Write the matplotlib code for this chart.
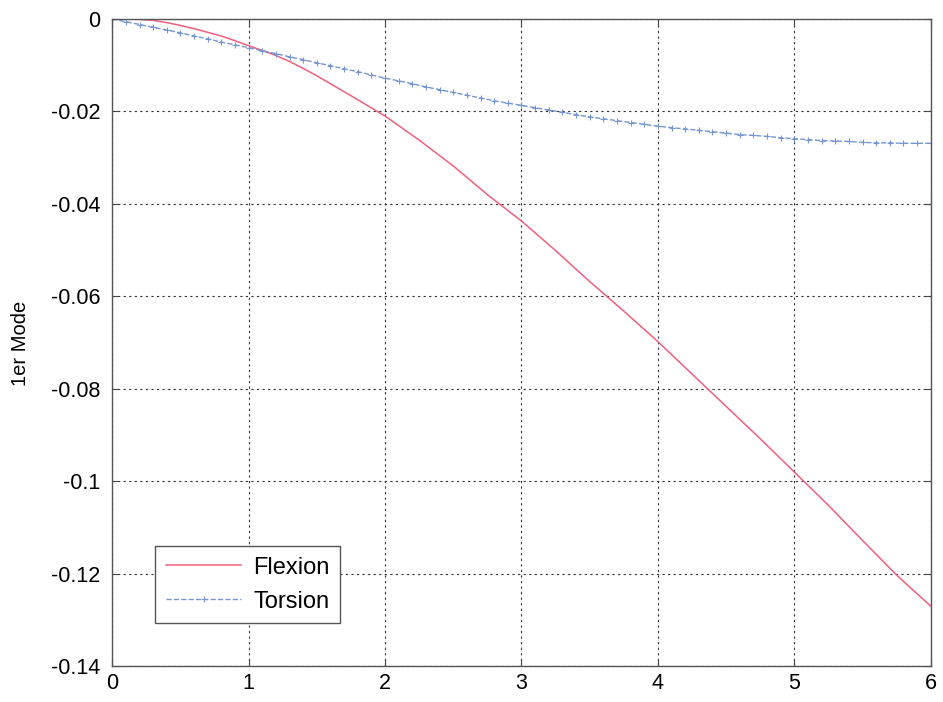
import matplotlib
matplotlib.use("Agg")
import matplotlib.pyplot as plt

# flexion
flex_x = [0, 0.1, 0.2, 0.3, 0.4, 0.5, 0.6, 0.7, 0.8, 0.9, 1.0, 1.1, 1.2, 1.3,
          1.4, 1.5, 1.75, 2.0, 2.25, 2.5, 2.75, 3.0, 3.25, 3.5, 3.75, 4.0,
          4.25, 4.5, 4.75, 5.0, 5.25, 5.5, 5.75, 6.0]
flex_y = [0, 0, -0.0001, -0.0003, -0.0008, -0.0014, -0.0021, -0.0029, -0.0037,
          -0.0047, -0.0058, -0.0068, -0.0079, -0.0092, -0.0107, -0.0123,
          -0.0166, -0.0210, -0.0262, -0.0318, -0.0380, -0.0437, -0.0501,
          -0.0568, -0.0632, -0.0698, -0.0768, -0.0838, -0.0908, -0.0980,
          -0.1052, -0.1128, -0.1203, -0.1270]

# torsion, one marker every 0.1
tors_x = [i / 10 for i in range(61)]
tors_y = [0, -0.0006, -0.0012, -0.0018, -0.0024, -0.0030, -0.0037, -0.0043,
          -0.0050, -0.0056, -0.0062, -0.0069, -0.0075, -0.0082, -0.0088,
          -0.0095, -0.0101, -0.0108, -0.0114, -0.0121, -0.0128, -0.0134,
          -0.0140, -0.0147, -0.0153, -0.0159, -0.0165, -0.0171, -0.0177,
          -0.0182, -0.0187, -0.0192, -0.0197, -0.0202, -0.0207, -0.0212,
          -0.0216, -0.0220, -0.0224, -0.0228, -0.0232, -0.0235, -0.0238,
          -0.0241, -0.0244, -0.0247, -0.0250, -0.0252, -0.0254, -0.0257,
          -0.0259, -0.0261, -0.0263, -0.0264, -0.0265, -0.0267, -0.0268,
          -0.0268, -0.0269, -0.0269, -0.0269]

xticks = [0, 1, 2, 3, 4, 5, 6]
yticks = [0, -0.02, -0.04, -0.06, -0.08, -0.1, -0.12, -0.14]
ytick_labels = ["0", "-0.02", "-0.04", "-0.06", "-0.08", "-0.1", "-0.12", "-0.14"]

plt.rcParams['font.family'] = ['Liberation Sans', 'DejaVu Sans']

fig = plt.figure(figsize=(9.43, 7.02), dpi=100)
ax = fig.add_axes([0.119, 0.051, 0.868, 0.922])

ax.plot(flex_x, flex_y, color='#f0607e', lw=1.1, label='Flexion')
ax.plot(tors_x, tors_y, color='#7595d5', lw=1.0, ls='--', marker='+',
        markersize=4, markeredgewidth=0.8, label='Torsion')

ax.set_xlim(0, 6)
ax.set_ylim(-0.14, 0)
ax.set_xticks(xticks)
ax.set_yticks(yticks)
ax.set_yticklabels(ytick_labels)
ax.tick_params(direction='in', labelsize=15.5, length=5, color='#444444',
               top=True, right=True)
ax.tick_params(axis='x', pad=5)
ax.tick_params(axis='y', pad=8.5)
ax.grid(True, color='#333333', ls=(0, (2, 3)), lw=0.8)
for s in ax.spines.values():
    s.set_color('#555555')
    s.set_linewidth(1.0)

fig.text(20 / 943, 1 - 343 / 702, '1er Mode', rotation=90, fontsize=14.5,
         ha='center', va='center')

leg = ax.legend(loc='lower left', bbox_to_anchor=(0.0525, 0.0665),
                borderaxespad=0, fontsize=17, fancybox=False, framealpha=1,
                edgecolor='#555555', handlelength=3.2, handletextpad=0.5,
                borderpad=0.45, labelspacing=0.5)
leg.get_frame().set_linewidth(1.0)

fig.savefig('out.png', dpi=100)
